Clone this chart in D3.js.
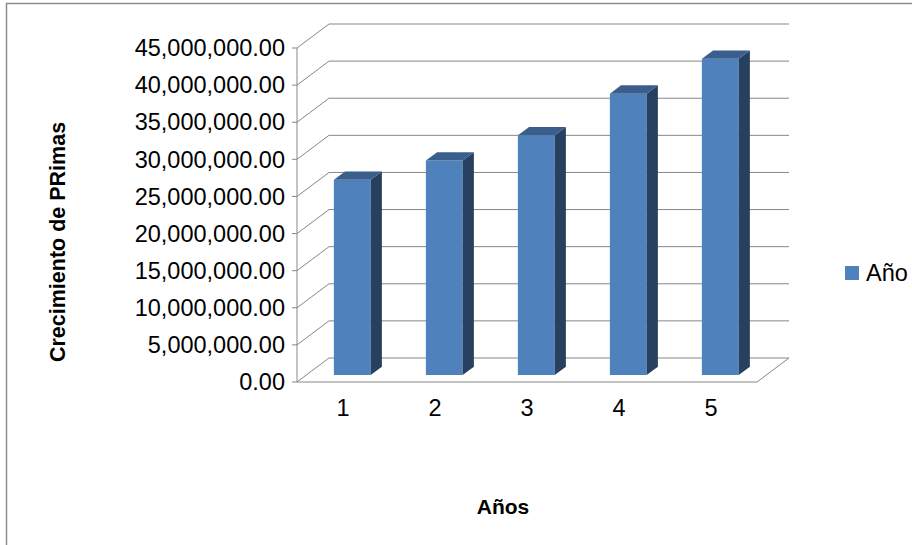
<!DOCTYPE html>
<html>
<head>
<meta charset="utf-8">
<script src="https://cdn.jsdelivr.net/npm/d3@7/dist/d3.min.js"></script>
<style>
    body { margin: 0; background: #fff; }
    svg text { font-family: "Liberation Sans", Arial, sans-serif; fill: #000; }
</style>
</head>
<body>
<div id="chart"></div>
<script>
// datos del grafico
var anios = ["1", "2", "3", "4", "5"];
var primas = [26300000, 28900000, 32300000, 37900000, 42600000];
var serie = "Año";
var tituloY = "Crecimiento de PRimas";
var tituloX = "Años";
var yMax = 45000000;
var yPaso = 5000000;

// parametros graficos
//---------------------------------------------------------------------------
var width = 912, height = 545;
var prof = { dx: 32, dy: -24 };   // profundidad de la caja 3d
var barProf = [0.29, 0.64];       // donde empieza y termina la barra en la profundidad
var colores = { frente: "#4f81bd", lado: "#28405f", arriba: "#3b5f8d", grid: "#878787" };

var svg = d3.select("#chart").append("svg")
    .attr("width", width)
    .attr("height", height);

// marco exterior
svg.append("rect")
    .attr("x", 6.5).attr("y", 3.5)
    .attr("width", width + 20).attr("height", height + 20)
    .attr("fill", "none")
    .attr("stroke", "#8c8c8c")
    .attr("stroke-width", 1.5);

var x = d3.scaleBand().domain(anios).range([297, 757])
    .paddingInner(0.6).paddingOuter(0.3);
var y = d3.scaleLinear().domain([0, yMax]).range([382, 48]);
var ticks = d3.range(0, yMax + 1, yPaso);
var fmt = d3.format(",.2f");

// punto proyectado a profundidad d (0 = frente, 1 = fondo)
function p(px, py, d) {
    return [px + d * prof.dx, py + d * prof.dy];
}
function poly(pts) {
    return pts.map(function(q) { return q.join(","); }).join(" ");
}

// paredes y lineas de division
//---------------------------------------------------------------------------
var walls = svg.append("g")
    .attr("fill", "none")
    .attr("stroke", colores.grid)
    .attr("stroke-width", 1);

var x0 = x.range()[0], x1 = x.range()[1];

// lineas en la pared del fondo
walls.selectAll(".grid").data(ticks).enter()
    .append("line")
    .attr("x1", function(t) { return p(x0, y(t), 1)[0]; })
    .attr("y1", function(t) { return p(x0, y(t), 1)[1]; })
    .attr("x2", function(t) { return p(x1, y(t), 1)[0]; })
    .attr("y2", function(t) { return p(x1, y(t), 1)[1]; });

// diagonales en la pared lateral
walls.selectAll(".diag").data(ticks).enter()
    .append("line")
    .attr("x1", x0).attr("y1", function(t) { return y(t); })
    .attr("x2", function(t) { return p(x0, y(t), 1)[0]; })
    .attr("y2", function(t) { return p(x0, y(t), 1)[1]; });

// marcas del eje
walls.selectAll(".tick").data(ticks).enter()
    .append("line")
    .attr("x1", x0 - 5).attr("x2", x0)
    .attr("y1", function(t) { return y(t); })
    .attr("y2", function(t) { return y(t); });

// eje vertical y borde del piso
walls.append("line")
    .attr("x1", x0).attr("x2", x0)
    .attr("y1", y(0)).attr("y2", y(yMax));
walls.append("polyline")
    .attr("points", poly([[x0, y(0)], [x1, y(0)], p(x1, y(0), 1)]));

// etiquetas del eje y
svg.selectAll(".ylab").data(ticks).enter()
    .append("text")
    .attr("x", x0 - 12)
    .attr("y", function(t) { return y(t); })
    .attr("dy", "0.35em")
    .attr("text-anchor", "end")
    .attr("font-size", "23.5px")
    .text(function(t) { return fmt(t); });

// etiquetas de categorias
svg.selectAll(".xlab").data(anios).enter()
    .append("text")
    .attr("x", function(d) { return x(d) + x.bandwidth() / 2; })
    .attr("y", 408)
    .attr("dy", "0.35em")
    .attr("text-anchor", "middle")
    .attr("font-size", "23.5px")
    .text(function(d) { return d; });

// barras 3d
//---------------------------------------------------------------------------
var bars = svg.selectAll(".bar")
    .data(anios.map(function(a, i) { return { anio: a, valor: primas[i] }; }))
    .enter().append("g");

bars.each(function(d) {
    var g = d3.select(this);
    var l = x(d.anio), r = x(d.anio) + x.bandwidth();
    var top = y(d.valor), bot = y(0);
    var a = barProf[0], b = barProf[1];

    // cara frontal
    g.append("polygon")
        .attr("points", poly([p(l, top, a), p(r, top, a), p(r, bot, a), p(l, bot, a)]))
        .attr("fill", colores.frente);
    // cara lateral
    g.append("polygon")
        .attr("points", poly([p(r, top, a), p(r, top, b), p(r, bot, b), p(r, bot, a)]))
        .attr("fill", colores.lado);
    // cara superior
    g.append("polygon")
        .attr("points", poly([p(l, top, a), p(l, top, b), p(r, top, b), p(r, top, a)]))
        .attr("fill", colores.arriba);
});

// titulos
//---------------------------------------------------------------------------
svg.append("text")
    .attr("transform", "translate(57,242) rotate(-90)")
    .attr("dy", "0.35em")
    .attr("text-anchor", "middle")
    .attr("font-size", "21.5px")
    .attr("font-weight", "bold")
    .text(tituloY);

svg.append("text")
    .attr("x", 503).attr("y", 507)
    .attr("dy", "0.35em")
    .attr("text-anchor", "middle")
    .attr("font-size", "21px")
    .attr("font-weight", "bold")
    .text(tituloX);

// leyenda
var leg = svg.append("g").attr("transform", "translate(845,266)");
leg.append("rect")
    .attr("width", 14).attr("height", 14)
    .attr("fill", colores.frente);
leg.append("text")
    .attr("x", 21).attr("y", 7)
    .attr("dy", "0.35em")
    .attr("font-size", "23.5px")
    .text(serie);
</script>
</body>
</html>
